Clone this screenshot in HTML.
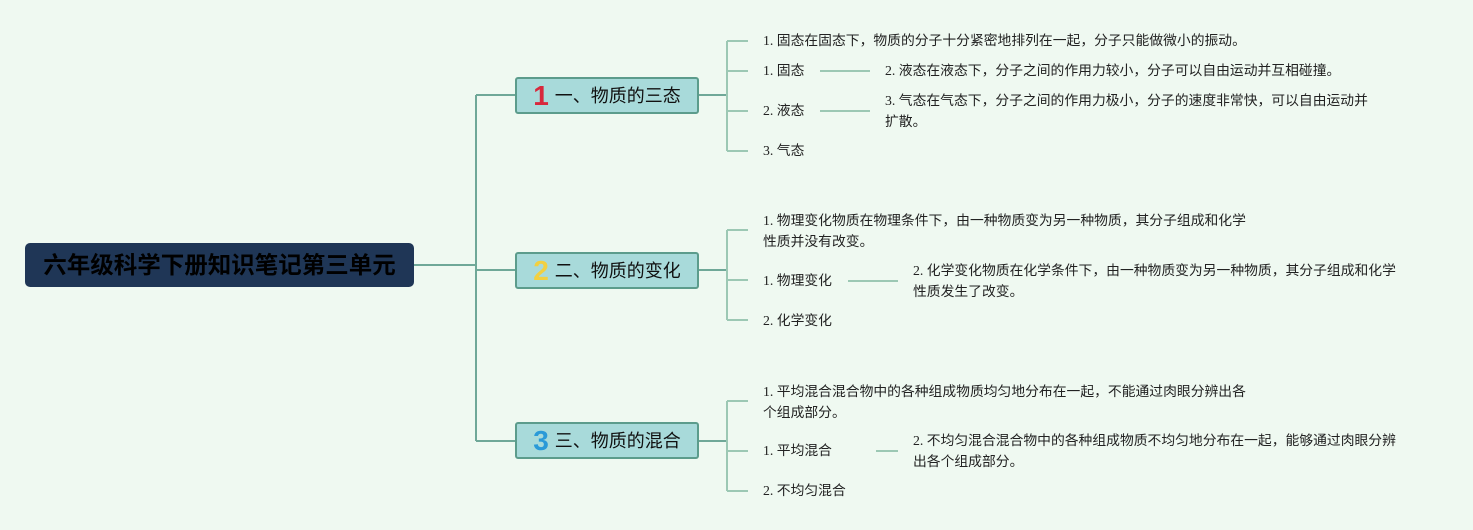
<!DOCTYPE html>
<html><head><meta charset="utf-8"><style>
body{margin:0;width:1473px;height:530px;background:#eff9f1;position:relative;overflow:hidden;font-family:"Liberation Serif","Noto Sans CJK SC",sans-serif;}
.t{position:absolute;font-size:13.8px;line-height:21px;color:#222;white-space:nowrap}
.b{position:absolute;left:515px;width:180px;height:33px;background:#a8dada;border:2px solid #5c9c8c;border-radius:3px;font-family:"Liberation Sans","Noto Sans CJK SC",sans-serif;font-size:18px;line-height:33px;text-align:center;color:#111}
.n{font-weight:900;font-size:28px;vertical-align:-3px;margin-right:6px;font-family:"Liberation Sans",sans-serif}
</style></head><body>
<svg width="1473" height="530" style="position:absolute;left:0;top:0">
<g stroke="#6fa898" stroke-width="2" fill="none">
<path d="M414 265H476M476 95V441M476 95H515M476 270H515M476 441H515"/>
<path d="M698 95H727M698 270H727M698 441H727"/>
</g>
<g stroke="#9cc8b4" stroke-width="2" fill="none">
<path d="M727 41V151M727 41H748M727 71H748M727 111H748M727 151H748"/>
<path d="M727 230V320M727 230H748M727 280H748M727 320H748"/>
<path d="M727 401V491M727 401H748M727 451H748M727 491H748"/>
<path d="M820 71H870M820 111H870M848 281H898M876 451H898"/>
</g>
</svg>
<div style="position:absolute;left:25px;top:243px;width:389px;height:44px;background:#1f3656;border-radius:5px;font-family:'Liberation Sans','Noto Sans CJK SC',sans-serif;font-weight:bold;font-size:23.5px;line-height:44px;text-align:center;color:#000">六年级科学下册知识笔记第三单元</div>
<div class="b" style="top:77px"><span class="n" style="color:#d8283c">1</span>一、物质的三态</div>
<div class="b" style="top:252px"><span class="n" style="color:#f2d040">2</span>二、物质的变化</div>
<div class="b" style="top:422px"><span class="n" style="color:#2a9ad8">3</span>三、物质的混合</div>
<div class="t" style="left:763px;top:30px">1. 固态在固态下，物质的分子十分紧密地排列在一起，分子只能做微小的振动。</div>
<div class="t" style="left:763px;top:60px">1. 固态</div>
<div class="t" style="left:763px;top:100px">2. 液态</div>
<div class="t" style="left:763px;top:140px">3. 气态</div>
<div class="t" style="left:885px;top:60px">2. 液态在液态下，分子之间的作用力较小，分子可以自由运动并互相碰撞。</div>
<div class="t" style="left:885px;top:90px">3. 气态在气态下，分子之间的作用力极小，分子的速度非常快，可以自由运动并<br>扩散。</div>
<div class="t" style="left:763px;top:210px">1. 物理变化物质在物理条件下，由一种物质变为另一种物质，其分子组成和化学<br>性质并没有改变。</div>
<div class="t" style="left:763px;top:270px">1. 物理变化</div>
<div class="t" style="left:763px;top:310px">2. 化学变化</div>
<div class="t" style="left:913px;top:260px">2. 化学变化物质在化学条件下，由一种物质变为另一种物质，其分子组成和化学<br>性质发生了改变。</div>
<div class="t" style="left:763px;top:381px">1. 平均混合混合物中的各种组成物质均匀地分布在一起，不能通过肉眼分辨出各<br>个组成部分。</div>
<div class="t" style="left:763px;top:440px">1. 平均混合</div>
<div class="t" style="left:763px;top:480px">2. 不均匀混合</div>
<div class="t" style="left:913px;top:430px">2. 不均匀混合混合物中的各种组成物质不均匀地分布在一起，能够通过肉眼分辨<br>出各个组成部分。</div>
</body></html>
